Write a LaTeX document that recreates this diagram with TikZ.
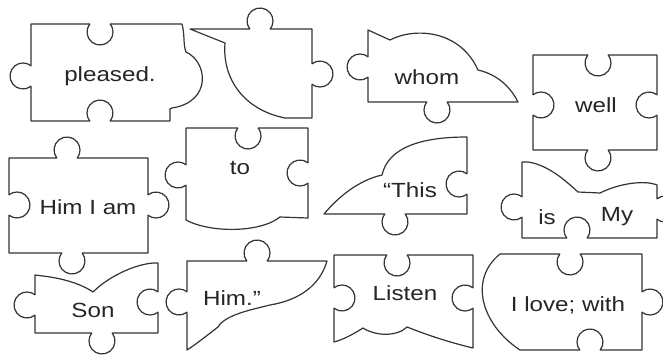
\documentclass[tikz,border=0pt]{standalone}
\usepackage{fontspec}
\setmainfont{Liberation Sans}[FakeStretch=1.18]
\newcommand\pzTT[2]{-- ({#1-10.24},{-#2}) arc[start angle=218,end angle=-38,radius=13]}
\newcommand\pzTN[2]{-- ({#1-10.24},{-#2}) arc[start angle=142,end angle=398,radius=13]}
\newcommand\pzRT[2]{-- ({#1},{-#2+10.24}) arc[start angle=128,end angle=-128,radius=13]}
\newcommand\pzRN[2]{-- ({#1},{-#2+10.24}) arc[start angle=52,end angle=308,radius=13]}
\newcommand\pzBT[2]{-- ({#1+10.24},{-#2}) arc[start angle=38,end angle=-218,radius=13]}
\newcommand\pzBN[2]{-- ({#1+10.24},{-#2}) arc[start angle=-38,end angle=218,radius=13]}
\newcommand\pzLT[2]{-- ({#1},{-#2-10.24}) arc[start angle=308,end angle=52,radius=13]}
\newcommand\pzLN[2]{-- ({#1},{-#2-10.24}) arc[start angle=-128,end angle=128,radius=13]}
\begin{document}
\begin{tikzpicture}[x=1pt,y=1pt,
  piece/.style={draw=black!80,line width=1.2pt,line join=round,fill=white},
  lbl/.style={inner sep=0pt,text=black!85,font=\fontsize{20.5}{22}\selectfont}]
\useasboundingbox (0,0) rectangle (663,-356);
% 1 pleased.
\draw[piece] (31,-121) \pzLT{31}{76} -- (31,-24) \pzTN{100}{24} -- (182,-24)
  .. controls (185,-35) and (183,-45) .. (186,-52)
  .. controls (208,-62) and (212,-102) .. (172,-108) -- (170,-109) -- (170,-121)
  \pzBN{100}{121} -- cycle;
\node[lbl] (t1) at (110,-76) {pleased.};
% 2 bubble
\draw[piece] (190,-29) \pzTT{260}{29} -- (312,-29) \pzRT{312}{74} -- (312,-118)
  -- (285,-118) .. controls (245,-110) and (222,-80) .. (225,-43) -- cycle;
% 3 whom
\draw[piece] (368,-102) \pzLT{368}{67} -- (368,-30) -- (390,-40)
  .. controls (415,-27) and (460,-30) .. (478,-70)
  .. controls (500,-75) and (512,-90) .. (518,-102) \pzBT{437}{102} -- cycle;
\node[lbl] (t3) at (427,-77) {whom};
% 4 well
\draw[piece] (533,-150) \pzLN{533}{105} -- (533,-55) \pzTN{598}{55} -- (657,-55)
  \pzRN{657}{105} -- (657,-150) \pzBT{598}{150} -- cycle;
\node[lbl] (t4) at (596,-105) {well};
% 5 Him I am
\draw[piece] (9,-253) \pzLN{9}{205} -- (9,-158) \pzTT{67}{158} -- (148,-158)
  \pzRT{148}{205} -- (148,-253) \pzBT{72}{253} -- cycle;
\node[lbl] (t5) at (88,-207) {Him I am};
% 6 to
\draw[piece] (186,-220) \pzLT{186}{175} -- (186,-128) \pzTN{248}{128} -- (308,-128)
  \pzRN{308}{173} -- (308,-218) -- (280,-217)
  .. controls (260,-233) and (210,-233) .. (186,-220) -- cycle;
\node[lbl] (t6) at (240,-168) {to};
% 7 This
\draw[piece] (324,-214) .. controls (340,-195) and (360,-180) .. (382,-175)
  .. controls (388,-148) and (420,-137) .. (467,-137)
  \pzRN{467}{184} -- (467,-214) \pzBT{395}{214} -- cycle;
\node[lbl] (t7) at (410,-190) {“This};
% 8 is My
\draw[piece] (522,-238) \pzLT{522}{207} -- (522,-162) -- (528,-162)
  .. controls (550,-165) and (570,-185) .. (578,-192) -- (600,-193)
  .. controls (620,-183) and (645,-180) .. (657,-185)
  \pzRT{657}{209} -- (657,-238) \pzBN{577}{238} -- cycle;
\node[lbl] (t8a) at (547,-217) {is};
\node[lbl] (t8b) at (617,-217) {My};
% 9 Son
\draw[piece] (35,-333) \pzLT{35}{305} -- (35,-275) -- (43,-276)
  .. controls (60,-278) and (80,-283) .. (93,-292)
  .. controls (110,-275) and (140,-262) .. (158,-263)
  \pzRN{158}{302} -- (158,-333) \pzBT{102}{333} -- cycle;
\node[lbl] (t9) at (93,-310) {Son};
% 10 Him.”
\draw[piece] (187,-350) \pzLT{187}{302} -- (187,-261) \pzTT{257}{261} -- (327,-261)
  .. controls (320,-285) and (300,-300) .. (270,-305)
  .. controls (250,-310) and (225,-315) .. (218,-327)
  .. controls (205,-337) and (195,-345) .. (187,-350) -- cycle;
\node[lbl] (t10) at (232,-298) {Him.”};
% 11 Listen
\draw[piece] (334,-342) \pzLN{334}{298} -- (334,-255) \pzTN{397}{255} -- (473,-255)
  \pzRN{473}{298} -- (473,-348)
  .. controls (440,-340) and (420,-332) .. (407,-327)
  .. controls (397,-337) and (375,-336) .. (363,-328)
  .. controls (352,-335) and (342,-340) .. (334,-342) -- cycle;
\node[lbl] (t11) at (405,-293) {Listen};
% 12 I love; with
\draw[piece] (520,-350) .. controls (482,-325) and (468,-280) .. (500,-254)
  \pzTN{570}{254} -- (642,-254) \pzRT{642}{302} -- (642,-350)
  \pzBN{590}{350} -- cycle;
\node[lbl] (t12) at (568,-305) {I love; with};
\end{tikzpicture}
\end{document}
